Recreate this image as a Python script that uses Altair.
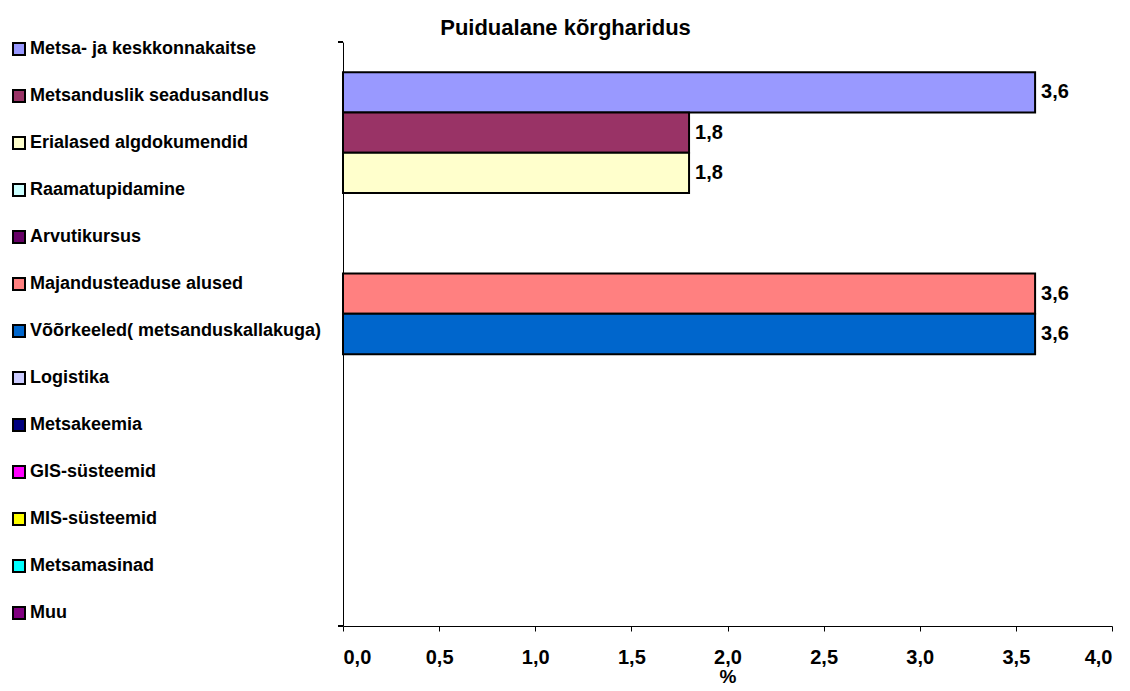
import altair as alt
import pandas as pd

series = [
    "Metsa- ja keskkonnakaitse",
    "Metsanduslik seadusandlus",
    "Erialased algdokumendid",
    "Raamatupidamine",
    "Arvutikursus",
    "Majandusteaduse alused",
    "Võõrkeeled( metsanduskallakuga)",
    "Logistika",
    "Metsakeemia",
    "GIS-süsteemid",
    "MIS-süsteemid",
    "Metsamasinad",
    "Muu",
]
values = [3.6, 1.8, 1.8, 0, 0, 3.6, 3.6, 0, 0, 0, 0, 0, 0]
colors = [
    "#9999FF", "#993366", "#FFFFCC", "#CCFFFF", "#660066", "#FF8080",
    "#0066CC", "#CCCCFF", "#000080", "#FF00FF", "#FFFF00", "#00FFFF", "#800080",
]
x_ticks = [0, 0.5, 1.0, 1.5, 2.0, 2.5, 3.0, 3.5, 4.0]

df = pd.DataFrame({"series": series, "value": values})

FONT = "Liberation Sans"
W, H = 769, 584

yscale = alt.Scale(domain=series, paddingInner=0, paddingOuter=0.75)
xscale = alt.Scale(domain=[0, 4], nice=False, zero=True)

base = alt.Chart(df)

bars = base.transform_filter("datum.value > 0").mark_bar(
    stroke="black", strokeWidth=2
).encode(
    x=alt.X(
        "value:Q",
        scale=xscale,
        axis=alt.Axis(
            values=x_ticks,
            title="%",
            labelExpr="replace(format(datum.value, '.1f'), '.', ',')",
            grid=False,
            domainColor="black",
            tickColor="black",
            tickSize=5,
            labelFont=FONT,
            labelFontSize=20,
            labelFontWeight="bold",
            labelColor="black",
            labelPadding=16,
            titleFont=FONT,
            titleFontSize=19,
            titleFontWeight="bold",
            titleColor="black",
            titlePadding=0,
        ),
    ),
    y=alt.Y(
        "series:N",
        scale=yscale,
        sort=series,
        axis=alt.Axis(
            values=[], labels=False, ticks=False, grid=False, title=None,
            domainColor="black",
        ),
    ),
    fill=alt.Fill(
        "series:N",
        scale=alt.Scale(domain=series, range=colors),
        sort=series,
        legend=alt.Legend(
            title=None,
            orient="none",
            legendX=-333,
            legendY=-2,
            symbolType="square",
            symbolSize=144,
            symbolStrokeColor="black",
            symbolStrokeWidth=2,
            labelFont=FONT,
            labelFontSize=18,
            labelFontWeight="bold",
            labelColor="black",
            labelLimit=400,
            labelOffset=2,
            rowPadding=27,
            padding=0,
        ),
    ),
)

labels = base.transform_filter("datum.value > 0").transform_calculate(
    lab="replace(format(datum.value, '.1f'), '.', ',')"
).mark_text(
    align="left", baseline="middle", dx=6, font=FONT, fontSize=20,
    fontWeight="bold", color="black",
).encode(
    x=alt.X("value:Q", scale=xscale),
    y=alt.Y("series:N", scale=yscale, sort=series),
    text="lab:N",
)

ytick_top = base.mark_rule(color="black").encode(
    x=alt.value(-5), x2=alt.value(0), y=alt.value(0)
)
ytick_bot = base.mark_rule(color="black").encode(
    x=alt.value(-5), x2=alt.value(0), y=alt.value(H)
)

chart = alt.layer(bars, labels, ytick_top, ytick_bot).properties(
    width=W,
    height=H,
    autosize=alt.AutoSizeParams(type="none"),
    padding={"left": 335, "top": 34, "right": 10, "bottom": 65},
    title=alt.TitleParams(
        "Puidualane kõrgharidus",
        font=FONT,
        fontSize=22,
        fontWeight="bold",
        color="black",
        anchor="middle",
        dx=-162,
        offset=0,
    ),
).configure(background="white").configure_view(stroke=None)

chart.save("out.html", embed_options={"renderer": "svg", "actions": False})
